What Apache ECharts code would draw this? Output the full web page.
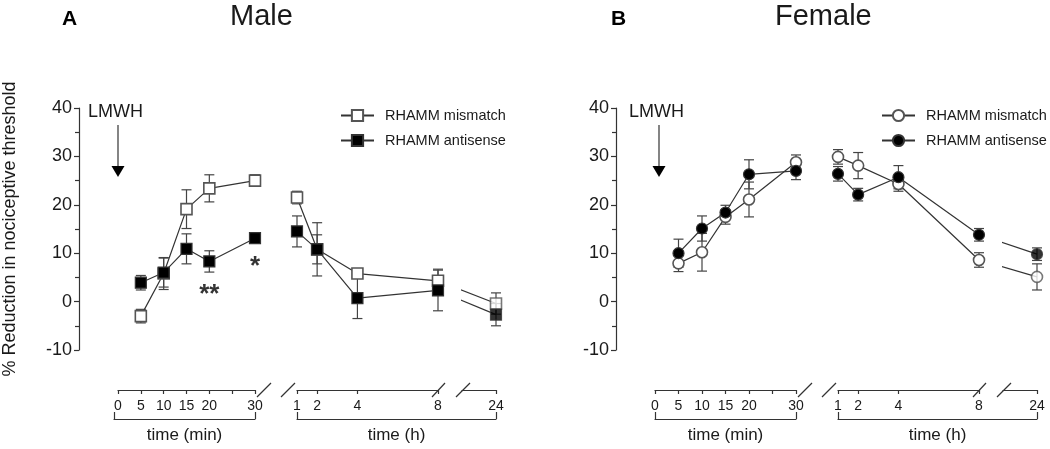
<!DOCTYPE html>
<html>
<head>
<meta charset="utf-8">
<script src="https://cdn.jsdelivr.net/npm/echarts@6/dist/echarts.min.js"></script>
<style>
  html, body { margin: 0; padding: 0; background: #fff; }
  #chart { width: 1050px; height: 449px; }
</style>
</head>
<body>
<div id="chart"></div>
<script>
// time points (broken axis: minutes / hours / 24 h)
const minTimes = [5, 10, 15, 20, 30];
const hourTimes = [1, 2, 4, 8];
const lateTime = 24;
const minTicks = [0, 5, 10, 15, 20, 30];
const hourTicks = [1, 2, 4, 8];

// A - Male, mean and SEM
const maleMismatchMin = [-3.0, 5.8, 19.1, 23.4, 25.0];
const maleMismatchMinSem = [1.4, 3.3, 4.0, 2.8, 1.2];
const maleMismatchHour = [21.5, 10.8, 5.8, 4.3];
const maleMismatchHourSem = [1.3, 5.5, 1.0, 2.4];
const maleMismatchLate = -0.4, maleMismatchLateSem = 2.2;

const maleAntiMin = [3.9, 6.0, 10.9, 8.3, 13.1];
const maleAntiMinSem = [1.5, 3.0, 3.1, 2.2, 1.0];
const maleAntiHour = [14.5, 10.8, 0.7, 2.3];
const maleAntiHourSem = [3.2, 3.0, 4.2, 4.2];
const maleAntiLate = -2.7, maleAntiLateSem = 2.3;

// significance marks (time, y, text)
const maleStars = [[20, 1.5, '**'], [30, 7.2, '*']];

// B - Female, mean and SEM
const femMismatchMin = [7.9, 10.2, 17.5, 21.1, 28.8];
const femMismatchMinSem = [1.7, 3.9, 1.5, 3.6, 1.5];
const femMismatchHour = [29.9, 28.1, 24.3, 8.6];
const femMismatchHourSem = [1.5, 2.7, 1.5, 1.5];
const femMismatchLate = 5.1, femMismatchLateSem = 2.7;

const femAntiMin = [10.0, 15.1, 18.4, 26.3, 27.0];
const femAntiMinSem = [2.9, 2.6, 1.5, 3.0, 1.8];
const femAntiHour = [26.4, 22.1, 25.7, 13.8];
const femAntiHourSem = [1.5, 1.3, 2.4, 1.3];
const femAntiLate = 9.8, femAntiLateSem = 1.3;

const FONT = '"Liberation Sans", Arial, Helvetica, sans-serif';
const AX = '#333', TXT = '#1a1a1a', LINE = '#333';
const TOP = 108, HEIGHT = 242;

const grid = [], xAxis = [], yAxis = [], series = [], graphic = [], legend = [];

const axLine = { color: AX, width: 1.2 };

function addGrid(left, width) {
  grid.push({ left: left, width: width, top: TOP, height: HEIGHT });
  const gi = grid.length - 1;
  yAxis.push({ type: 'value', gridIndex: gi, min: -10, max: 40, show: false });
  return gi;
}

function timeAxis(gi, min, max, ticks, interval) {
  return {
    type: 'value', gridIndex: gi, position: 'bottom', offset: 40,
    min: min, max: max, interval: interval,
    splitLine: { show: false },
    axisLine: { show: true, onZero: false, lineStyle: axLine },
    axisTick: { show: true, length: 4, lineStyle: axLine, customValues: interval ? undefined : ticks },
    axisLabel: { color: TXT, fontSize: 14, fontFamily: FONT, margin: 9, customValues: ticks }
  };
}

function bracketAxis(gi, name) {
  return {
    type: 'value', gridIndex: gi, position: 'bottom', offset: 70, min: 0, max: 1,
    splitLine: { show: false },
    axisLine: { show: true, onZero: false, lineStyle: axLine },
    axisTick: { show: true, inside: true, length: 7, lineStyle: axLine, customValues: [0, 1] },
    axisLabel: { show: false },
    name: name, nameLocation: 'middle', nameGap: 8,
    nameTextStyle: { color: TXT, fontSize: 17, fontFamily: FONT }
  };
}

function errRender(params, api) {
  const x = api.value(0), y = api.value(1), e = api.value(2);
  const hi = api.coord([x, y + e]), lo = api.coord([x, y - e]);
  const w = 5;
  const st = { stroke: '#444', lineWidth: 1.2 };
  return {
    type: 'group', children: [
      { type: 'line', shape: { x1: hi[0], y1: hi[1], x2: lo[0], y2: lo[1] }, style: st },
      { type: 'line', shape: { x1: hi[0] - w, y1: hi[1], x2: hi[0] + w, y2: hi[1] }, style: st },
      { type: 'line', shape: { x1: lo[0] - w, y1: lo[1], x2: lo[0] + w, y2: lo[1] }, style: st }
    ]
  };
}

function pts(xs, ys) { return xs.map((t, i) => [t, ys[i]]); }
function errPts(xs, ys, es) { return xs.map((t, i) => [t, ys[i], es[i]]); }

function panel(dx, key, symbol, groups, stars, yName) {
  const gM = addGrid(114 + dx, 141);
  const gH = addGrid(297 + dx, 141);
  // 24 h segment: 8 h sits at 438, 24 h at 496; the grid starts where the stub is cut
  const px8 = 438 + dx, px24 = 496 + dx, stubLeft = 462 + dx;
  const g24 = addGrid(stubLeft, px24 - stubLeft);
  const lateMin = lateTime - (px24 - stubLeft) / ((px24 - px8) / (lateTime - 8));
  const gMb = addGrid(114 + dx, 141);
  const gHb = addGrid(297 + dx, 199);

  xAxis[gM] = timeAxis(gM, 0, 30, minTicks, 5);
  xAxis[gH] = timeAxis(gH, 1, 8, hourTicks);
  xAxis[g24] = timeAxis(g24, lateMin, lateTime, [lateTime]);
  xAxis[gMb] = bracketAxis(gMb, 'time (min)');
  xAxis[gHb] = bracketAxis(gHb, 'time (h)');

  yAxis[gM] = {
    type: 'value', gridIndex: gM, position: 'left', offset: 39,
    min: -10, max: 40, interval: 10,
    splitLine: { show: false },
    axisLine: { show: true, onZero: false, lineStyle: axLine },
    axisTick: { show: true, length: 5, lineStyle: axLine },
    minorTick: { show: true, splitNumber: 2, length: 4, lineStyle: axLine },
    axisLabel: { color: TXT, fontSize: 18, fontFamily: FONT, margin: 7 },
    name: yName, nameLocation: 'middle', nameGap: 60,
    nameTextStyle: { color: TXT, fontSize: 18, fontFamily: FONT }
  };

  groups.forEach(g => {
    const sty = g.filled
      ? { color: '#000', borderColor: '#333', borderWidth: 1.2 }
      : { color: '#fff', borderColor: '#555', borderWidth: 1.6 };
    const lineSty = { color: LINE, width: 1.2 };
    const name = key + '|' + g.name;
    series.push({
      type: 'line', name: name, xAxisIndex: gM, yAxisIndex: gM,
      data: pts(minTimes, g.min), symbol: symbol, symbolSize: 11, showAllSymbol: true,
      clip: false, lineStyle: lineSty, itemStyle: sty, z: 3
    });
    series.push({
      type: 'line', xAxisIndex: gH, yAxisIndex: gH,
      data: pts(hourTimes, g.hour), symbol: symbol, symbolSize: 11, showAllSymbol: true,
      clip: false, lineStyle: lineSty, itemStyle: sty, z: 3
    });
    // stub of the 8 h -> 24 h line, cut at the axis break
    series.push({
      type: 'line', xAxisIndex: g24, yAxisIndex: g24,
      data: [[8, g.hour[3]], [lateTime, g.late]], symbol: 'none', showSymbol: false,
      clip: true, lineStyle: lineSty, z: 2
    });
    series.push({
      type: 'scatter', xAxisIndex: g24, yAxisIndex: g24, clip: false,
      data: [[lateTime, g.late]], symbol: symbol, symbolSize: 11, itemStyle: sty, z: 3
    });
    series.push({ type: 'custom', xAxisIndex: gM, yAxisIndex: gM, renderItem: errRender,
      data: errPts(minTimes, g.min, g.minSem), encode: { x: 0, y: 1 }, z: 1 });
    series.push({ type: 'custom', xAxisIndex: gH, yAxisIndex: gH, renderItem: errRender,
      data: errPts(hourTimes, g.hour, g.hourSem), encode: { x: 0, y: 1 }, z: 1 });
    series.push({ type: 'custom', xAxisIndex: g24, yAxisIndex: g24, renderItem: errRender,
      data: [[lateTime, g.late, g.lateSem]], encode: { x: 0, y: 1 }, z: 1 });
  });

  if (stars.length) {
    series.push({
      type: 'scatter', xAxisIndex: gM, yAxisIndex: gM, clip: false,
      data: stars, symbolSize: 1, itemStyle: { color: 'rgba(0,0,0,0)' }, z: 4,
      label: { show: true, position: 'inside', formatter: p => p.value[2],
        color: '#000', fontSize: 26, fontWeight: 'bold', fontFamily: FONT }
    });
  }

  legend.push({
    orient: 'vertical', left: 335 + dx, top: 103,
    itemWidth: 33, itemHeight: 14, itemGap: 10, selectedMode: false,
    data: groups.map(g => key + '|' + g.name),
    formatter: n => n.split('|')[1],
    textStyle: { color: TXT, fontSize: 14.5, fontFamily: FONT, padding: [0, 0, 0, 6] }
  });

  // LMWH injection arrow
  graphic.push({ type: 'text', left: 88 + dx, top: 103,
    style: { text: 'LMWH', fill: TXT, font: '18px ' + FONT } });
  graphic.push({ type: 'line', shape: { x1: 118 + dx, y1: 125, x2: 118 + dx, y2: 167 },
    style: { stroke: '#333', lineWidth: 1.2 } });
  graphic.push({ type: 'polygon', shape: { points: [[111.5 + dx, 166], [124.5 + dx, 166], [118 + dx, 177]] },
    style: { fill: '#000' } });

  // axis break slashes
  [[257, 271], [281, 295], [432, 445], [456, 470]].forEach(s => {
    graphic.push({ type: 'line', shape: { x1: s[0] + dx, y1: 397, x2: s[1] + dx, y2: 383 },
      style: { stroke: '#333', lineWidth: 1.2 } });
  });
}

panel(0, 'A', 'rect', [
  { name: 'RHAMM mismatch', filled: false,
    min: maleMismatchMin, minSem: maleMismatchMinSem, hour: maleMismatchHour, hourSem: maleMismatchHourSem,
    late: maleMismatchLate, lateSem: maleMismatchLateSem },
  { name: 'RHAMM antisense', filled: true,
    min: maleAntiMin, minSem: maleAntiMinSem, hour: maleAntiHour, hourSem: maleAntiHourSem,
    late: maleAntiLate, lateSem: maleAntiLateSem }
], maleStars, '% Reduction in nociceptive threshold');

panel(541, 'B', 'circle', [
  { name: 'RHAMM mismatch', filled: false,
    min: femMismatchMin, minSem: femMismatchMinSem, hour: femMismatchHour, hourSem: femMismatchHourSem,
    late: femMismatchLate, lateSem: femMismatchLateSem },
  { name: 'RHAMM antisense', filled: true,
    min: femAntiMin, minSem: femAntiMinSem, hour: femAntiHour, hourSem: femAntiHourSem,
    late: femAntiLate, lateSem: femAntiLateSem }
], [], '');

// panel letters and titles
graphic.push({ type: 'text', left: 62, top: 9, style: { text: 'A', fill: '#000', font: 'bold 21px ' + FONT } });
graphic.push({ type: 'text', left: 611, top: 9, style: { text: 'B', fill: '#000', font: 'bold 21px ' + FONT } });
graphic.push({ type: 'text', left: 230, top: 2, style: { text: 'Male', fill: TXT, font: '29px ' + FONT } });
graphic.push({ type: 'text', left: 775, top: 2, style: { text: 'Female', fill: TXT, font: '29px ' + FONT } });

const chart = echarts.init(document.getElementById('chart'));
chart.setOption({
  animation: false,
  backgroundColor: '#fff',
  textStyle: { fontFamily: FONT },
  grid: grid,
  xAxis: xAxis,
  yAxis: yAxis,
  legend: legend,
  graphic: graphic,
  series: series
});
</script>
</body>
</html>
